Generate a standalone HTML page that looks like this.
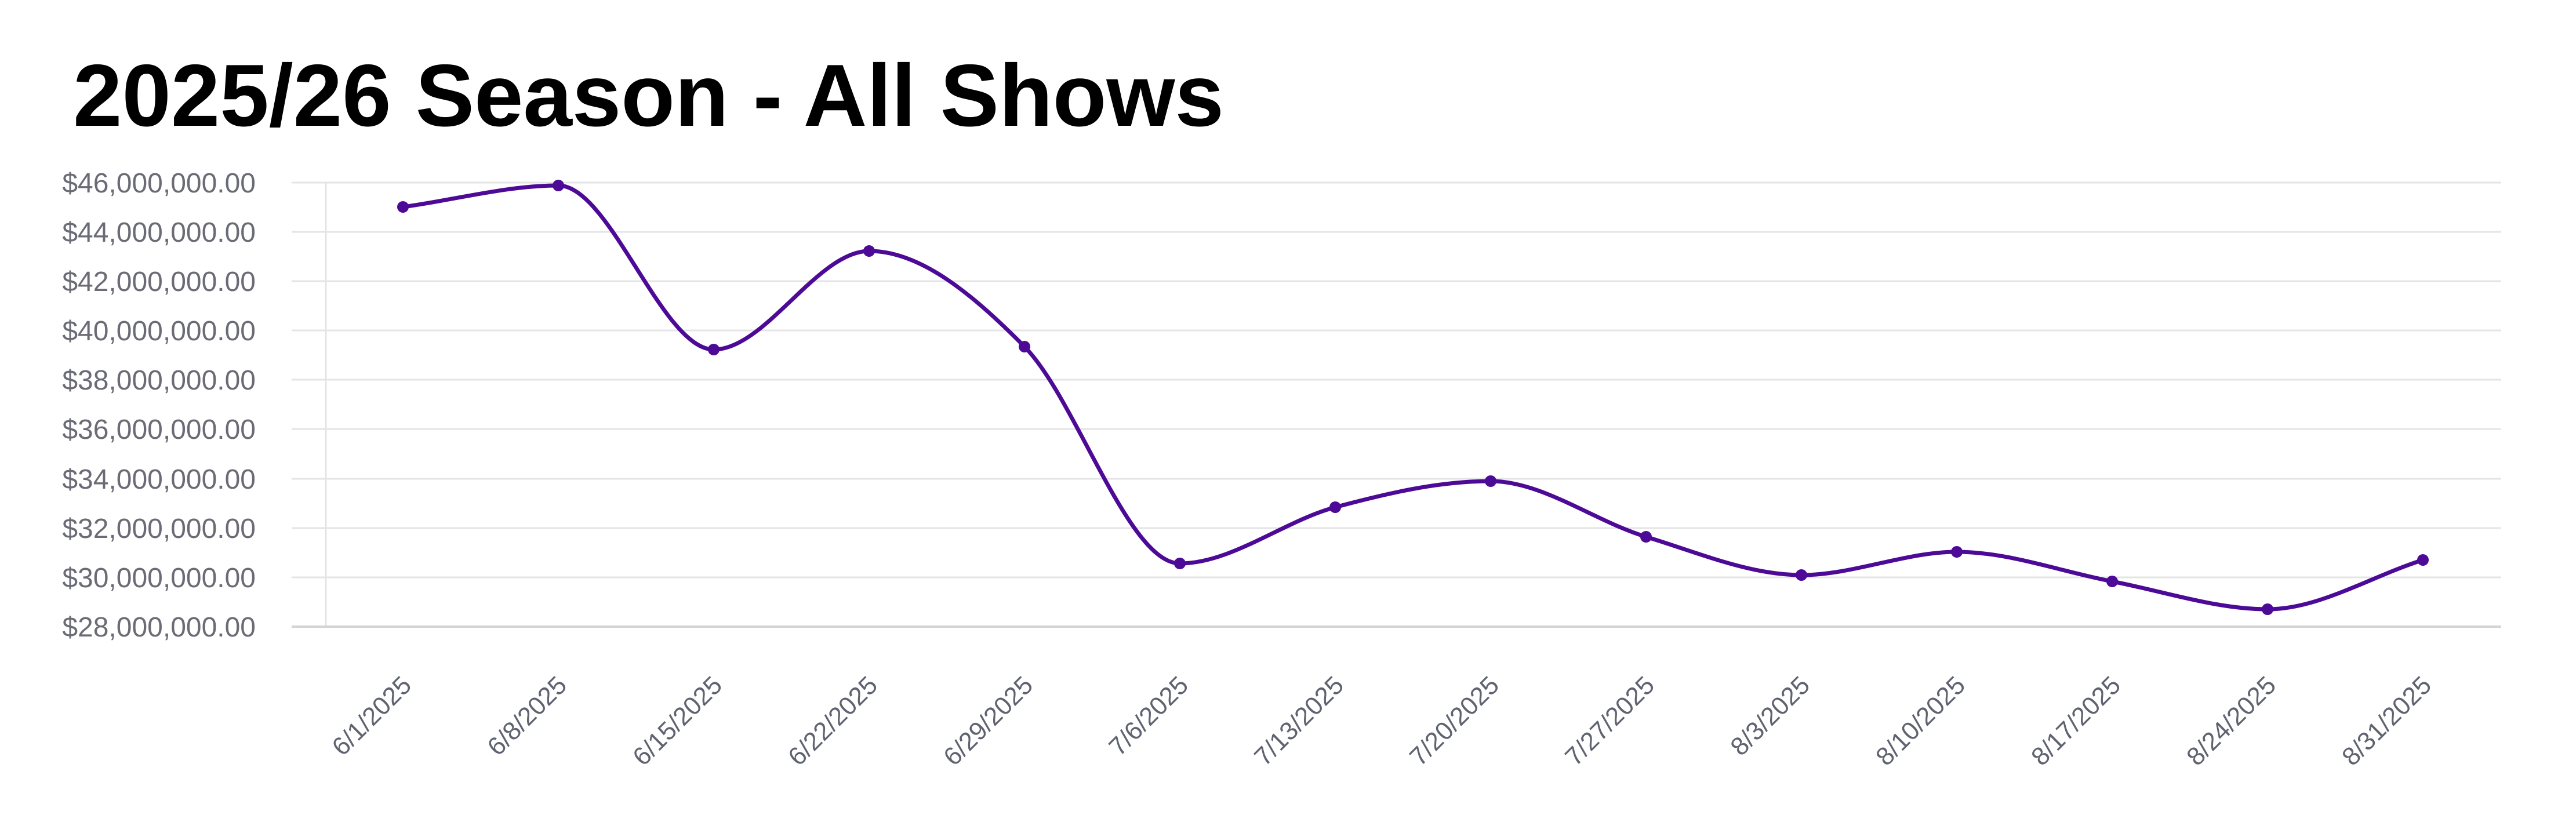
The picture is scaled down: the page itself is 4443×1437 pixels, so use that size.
<!DOCTYPE html>
<html><head><meta charset="utf-8"><style>
html,body{margin:0;padding:0;background:#fff}
svg{display:block}
</style></head><body>
<svg width="4443" height="1437" viewBox="0 0 4443 1437" xmlns="http://www.w3.org/2000/svg">
<rect width="4443" height="1437" fill="#fff"/>
<text x="126" y="217" font-family="Liberation Sans, sans-serif" font-weight="bold" font-size="152" fill="#000" textLength="1985" lengthAdjust="spacing">2025/26 Season - All Shows</text>
<g stroke="#e4e4e7" stroke-width="3">
<line x1="503" y1="315" x2="4314" y2="315"/>
<line x1="503" y1="400" x2="4314" y2="400"/>
<line x1="503" y1="485" x2="4314" y2="485"/>
<line x1="503" y1="570" x2="4314" y2="570"/>
<line x1="503" y1="655" x2="4314" y2="655"/>
<line x1="503" y1="740" x2="4314" y2="740"/>
<line x1="503" y1="826" x2="4314" y2="826"/>
<line x1="503" y1="911" x2="4314" y2="911"/>
<line x1="503" y1="996" x2="4314" y2="996"/>
<line x1="562" y1="315" x2="562" y2="1081"/>
</g>
<line x1="503" y1="1081" x2="4314" y2="1081" stroke="#d4d4d8" stroke-width="4"/>
<g font-family="Liberation Sans, sans-serif" font-size="48" fill="#6b6b76" text-anchor="end">
<text x="441" y="332">$46,000,000.00</text>
<text x="441" y="417">$44,000,000.00</text>
<text x="441" y="502">$42,000,000.00</text>
<text x="441" y="587">$40,000,000.00</text>
<text x="441" y="672">$38,000,000.00</text>
<text x="441" y="757">$36,000,000.00</text>
<text x="441" y="843">$34,000,000.00</text>
<text x="441" y="928">$32,000,000.00</text>
<text x="441" y="1013">$30,000,000.00</text>
<text x="441" y="1098">$28,000,000.00</text>
</g>
<g font-family="Liberation Sans, sans-serif" font-size="44" fill="#5f6370" text-anchor="end">
<text transform="translate(712,1185) rotate(-45)">6/1/2025</text>
<text transform="translate(980,1185) rotate(-45)">6/8/2025</text>
<text transform="translate(1248,1185) rotate(-45)">6/15/2025</text>
<text transform="translate(1516,1185) rotate(-45)">6/22/2025</text>
<text transform="translate(1784,1185) rotate(-45)">6/29/2025</text>
<text transform="translate(2052,1185) rotate(-45)">7/6/2025</text>
<text transform="translate(2320,1185) rotate(-45)">7/13/2025</text>
<text transform="translate(2588,1185) rotate(-45)">7/20/2025</text>
<text transform="translate(2856,1185) rotate(-45)">7/27/2025</text>
<text transform="translate(3124,1185) rotate(-45)">8/3/2025</text>
<text transform="translate(3392,1185) rotate(-45)">8/10/2025</text>
<text transform="translate(3660,1185) rotate(-45)">8/17/2025</text>
<text transform="translate(3928,1185) rotate(-45)">8/24/2025</text>
<text transform="translate(4196,1185) rotate(-45)">8/31/2025</text>
</g>
<path fill="none" stroke="#4c0a96" stroke-width="7" stroke-linejoin="round" stroke-linecap="round" d="M695,357 C784,345 874,320 963,320 C1052,320 1142,603 1231,603 C1320,603 1410,433 1499,433 C1588,433 1678,508 1767,598 C1856,688 1946,972 2035,972 C2124,972 2214,899 2303,875 C2392,851 2482,830 2571,830 C2660,830 2750,899 2839,926 C2928,953 3018,992 3107,992 C3196,992 3286,952 3375,952 C3464,952 3554,986 3643,1003 C3732,1020 3822,1051 3911,1051 C4000,1051 4090,994 4179,966"/>
<g fill="#4c0a96">
<circle cx="695" cy="357" r="10"/><circle cx="963" cy="320" r="10"/><circle cx="1231" cy="603" r="10"/><circle cx="1499" cy="433" r="10"/><circle cx="1767" cy="598" r="10"/><circle cx="2035" cy="972" r="10"/><circle cx="2303" cy="875" r="10"/><circle cx="2571" cy="830" r="10"/><circle cx="2839" cy="926" r="10"/><circle cx="3107" cy="992" r="10"/><circle cx="3375" cy="952" r="10"/><circle cx="3643" cy="1003" r="10"/><circle cx="3911" cy="1051" r="10"/><circle cx="4179" cy="966" r="10"/>
</g>
</svg>
</body></html>
